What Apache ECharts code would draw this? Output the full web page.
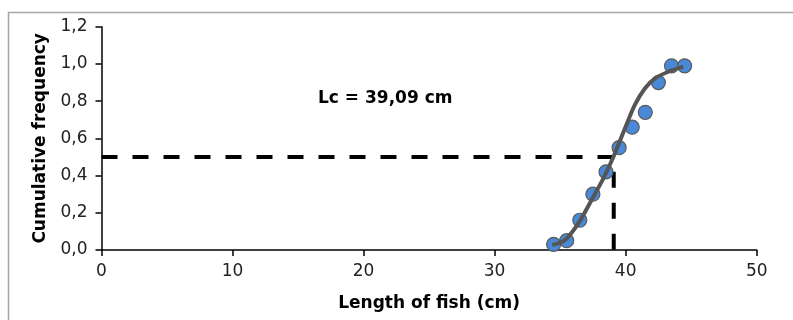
<!DOCTYPE html>
<html>
<head>
<meta charset="utf-8">
<script src="https://cdn.jsdelivr.net/npm/echarts@6/dist/echarts.min.js"></script>
<style>
html,body{margin:0;padding:0;background:#fff;}
#chart{width:793px;height:320px;}
</style>
</head>
<body>
<div id="chart"></div>
<script>
// Observed data (length of fish, cumulative frequency)
var lengths = [34.5, 35.5, 36.5, 37.5, 38.5, 39.5, 40.5, 41.5, 42.5, 43.5, 44.5];
var cumFreq = [0.03, 0.05, 0.16, 0.30, 0.42, 0.55, 0.66, 0.74, 0.90, 0.99, 0.99];
// Fitted curve
var curveX = [34.4, 35.37, 36.39, 37.4, 38.3, 39.06, 39.95, 40.7, 41.48, 42.24, 43.25, 44.4];
var curveY = [0.027, 0.054, 0.143, 0.269, 0.385, 0.50, 0.654, 0.78, 0.869, 0.922, 0.958, 0.985];
// Lc guide lines
var lcValue = 39.09;
var halfLevel = 0.5;
var vTop = 0.42;
var annotation = 'Lc = 39,09 cm';
var xTicks = [0, 10, 20, 30, 40, 50];
var yTicks = [0, 0.2, 0.4, 0.6, 0.8, 1.0, 1.2];

function zip(a, b) { return a.map(function (v, i) { return [v, b[i]]; }); }

var FONT = 'DejaVu Sans';
var chart = echarts.init(document.getElementById('chart'), null, {renderer: 'canvas'});
chart.setOption({
  animation: false,
  backgroundColor: '#ffffff',
  grid: {left: 101.5, right: 36.3, top: 26.7, bottom: 70, containLabel: false},
  xAxis: {
    type: 'value', min: xTicks[0], max: xTicks[xTicks.length - 1], interval: 10,
    name: 'Length of fish (cm)', nameLocation: 'middle', nameGap: 45,
    nameTextStyle: {fontFamily: FONT, fontWeight: 'bold', fontSize: 17, color: '#000'},
    axisLine: {onZero: false, lineStyle: {color: '#000', width: 1.5}},
    axisTick: {show: true, inside: false, length: 6, lineStyle: {color: '#000', width: 1.5}},
    axisLabel: {fontFamily: FONT, fontSize: 17, color: '#222', margin: 13},
    splitLine: {show: false}
  },
  yAxis: {
    type: 'value', min: yTicks[0], max: yTicks[yTicks.length - 1], interval: 0.2,
    name: 'Cumulative frequency', nameLocation: 'middle', nameGap: 52, nameRotate: 90,
    nameTextStyle: {fontFamily: FONT, fontWeight: 'bold', fontSize: 17, color: '#000'},
    axisLine: {show: true, onZero: false, lineStyle: {color: '#000', width: 1.5}},
    axisTick: {show: true, inside: false, length: 6, lineStyle: {color: '#000', width: 1.5}},
    axisLabel: {fontFamily: FONT, fontSize: 17, color: '#222', margin: 14,
      formatter: function (v) { return v.toFixed(1).replace('.', ','); }},
    splitLine: {show: false}
  },
  graphic: [
    {type: 'rect', left: 6, top: 10, z: -10, silent: true,
      shape: {width: 800, height: 320},
      style: {fill: 'none', stroke: '#a6a6a6', lineWidth: 1.5}},
    {type: 'text', left: 318, top: 90, z: 10,
      style: {text: annotation, fontFamily: FONT, fontWeight: 'bold', fontSize: 17, fill: '#000'}}
  ],
  series: [
    {type: 'line', data: [[0, halfLevel], [lcValue, halfLevel]], symbol: 'none', z: 1,
      lineStyle: {color: '#000', width: 4, type: [16, 15], cap: 'butt'}},
    {type: 'line', data: [[lcValue, vTop], [lcValue, 0]], symbol: 'none', z: 1,
      lineStyle: {color: '#000', width: 4, type: [16, 15], cap: 'butt'}},
    {type: 'scatter', data: zip(lengths, cumFreq), symbol: 'circle', symbolSize: 14, z: 2,
      itemStyle: {color: '#4a88d8', borderColor: '#5a5a5a', borderWidth: 1.2, opacity: 1}},
    {type: 'line', data: zip(curveX, curveY), symbol: 'none', smooth: 0.3, z: 3,
      lineStyle: {color: '#555555', width: 4}}
  ]
});
</script>
</body>
</html>
